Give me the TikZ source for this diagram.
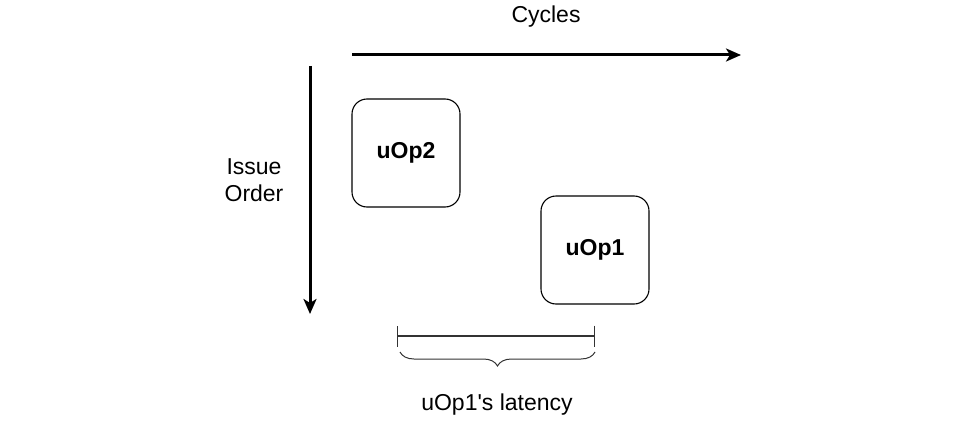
\documentclass[tikz,border=0pt]{standalone}
\usepackage{fontspec}
\setmainfont{Liberation Sans}
\usetikzlibrary{arrows.meta, positioning, decorations.pathreplacing}
\definecolor{lineblack}{RGB}{0,0,0}
\definecolor{dimgray}{RGB}{51,51,51}

\begin{document}
\begin{tikzpicture}[
  x=1pt, y=-1pt,
  axisarrow/.style={-{Stealth[length=15pt, width=13pt, inset=4pt]}, line width=3pt, lineblack},
  uopbox/.style={draw, line width=1.1pt, rounded corners=15pt, minimum width=108pt,
    minimum height=108pt, font=\fontsize{23}{27}\selectfont\bfseries},
  lbl/.style={font=\fontsize{23}{27}\selectfont, align=center},
  dimline/.style={line width=1.3pt, dimgray}
]
\useasboundingbox (0,0) rectangle (973,433);

% axes
\coordinate (cycstart) at (352,55);
\coordinate (cycend)   at (741,55);
\coordinate (issstart) at (310,66);
\coordinate (issend)   at (310,314);
\draw[axisarrow] (cycstart) -- (cycend);
\draw[axisarrow] (issstart) -- (issend);
\node[lbl] (cycles) at (546,17) {Cycles};
\node[lbl] (issue) at (254,180) {Issue\\Order};

% micro-ops
\node[uopbox] (uop2) at (406,153) {uOp2};
\node[uopbox] (uop1) at (595,250) {uOp1};

% latency span
\coordinate (latl) at (397,336);
\coordinate (latr) at (595,336);
\draw[dimline, {Bar[width=21pt]}-{Bar[width=21pt]}] (latl) -- (latr);
\draw[dimline, line width=1pt, decorate, decoration={brace, mirror, amplitude=14pt}]
  (400,352) -- (595,352);
\node[lbl] (latency) at (497,405) {uOp1\textquotesingle s latency};
\end{tikzpicture}
\end{document}
